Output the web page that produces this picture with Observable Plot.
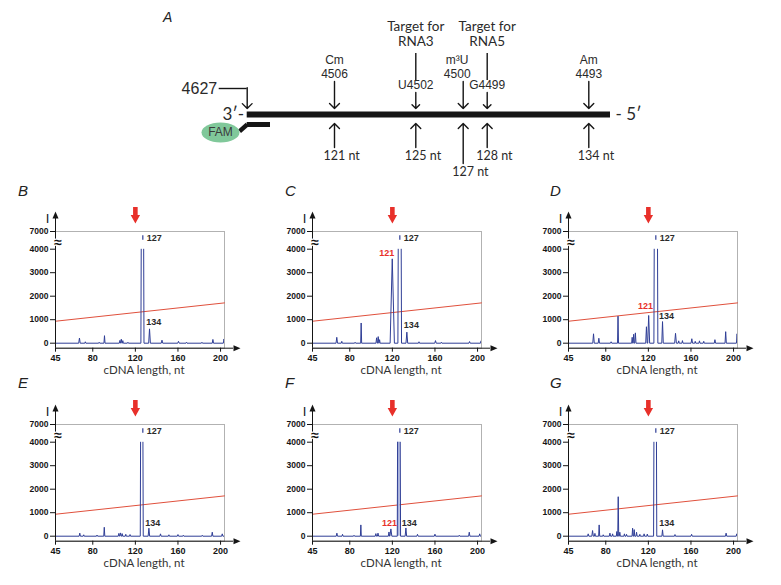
<!DOCTYPE html>
<html><head><meta charset="utf-8">
<script src="https://cdn.jsdelivr.net/npm/d3@7"></script>
<script src="https://cdn.jsdelivr.net/npm/@observablehq/plot@0.6"></script>
<style>
body{margin:0;background:#fff}
#root{position:relative;width:781px;height:585px;overflow:hidden;background:#fff}
.letter{position:absolute;font:italic 15px "Liberation Sans",Arial,sans-serif;color:#222;line-height:15px}
</style></head><body><div id="root"></div>
<script>
// ---------- Panel A data ----------
const strandEnds = {three: 116, five: 135};          // schematic 3' / 5' ends (nt units)
const primerLabel = "4627";
const modSites = [
  {mod: "Cm", pos: "4506", nt: 121},
  {mod: "m³U", pos: "4500", nt: 127},
  {mod: "Am", pos: "4493", nt: 134}
];
const targetSites = [
  {rna: "RNA3", site: "U4502", nt: 125},
  {rna: "RNA5", site: "G4499", nt: 128}
];
const stopLengths = [121, 125, 127, 128, 134];

// ---------- Electropherogram data ----------
const xTicks = [45, 80, 120, 160, 200];
const yTicks = [0, 1000, 2000, 3000, 4000, 7000];
const threshold = [{nt: 45, I: 935}, {nt: 203.7, I: 1715}];
const arrowAt = 120;
const mainTop = {nt: 127, y1: 5500, y2: 6300};

// peaks: [position nt, intensity, half-width nt]
const peaksB = [[67.5,220,0.7],[73,60,0.5],[86,40,0.5],[91,320,0.5],[105.5,120,0.6],[106.8,170,0.6],[108.2,110,0.5],[113,40,0.5],[133.3,610,0.8],[145,130,0.7],[160.5,80,0.7],[168,40,0.5],[182.5,40,0.5],[192.8,160,0.6],[203.2,180,0.6]];
const peaksC = [[67.8,250,0.7],[72.5,80,0.5],[85,40,0.5],[90.7,860,0.45],[105.2,230,0.6],[106.7,280,0.6],[108,150,0.5],[119.9,3590,2],[133.6,470,0.8],[145,60,0.5],[160.5,110,0.7],[166,40,0.5],[192.5,70,0.6],[203.3,100,0.6]];
const peaksD = [[68.5,400,0.7],[73.5,210,0.6],[85,60,0.6],[91.5,1150,0.45],[104.8,250,0.5],[106.2,380,0.5],[107.8,440,0.6],[118.2,700,0.7],[120.3,1180,0.9],[133.3,920,0.7],[145.5,420,0.8],[148.5,100,0.5],[152,110,0.5],[160.8,190,0.7],[164,80,0.5],[168,100,0.5],[172,80,0.5],[182.5,150,0.6],[192.6,490,0.6],[203.3,400,0.6]];
const peaksE = [[67.8,130,0.6],[71.5,60,0.5],[84,50,0.5],[90.8,380,0.5],[104.5,120,0.6],[106,140,0.6],[107.6,110,0.5],[111,80,0.5],[115,70,0.5],[132.7,340,0.7],[143.6,100,0.6],[151.5,60,0.5],[160,70,0.6],[165,40,0.5],[182.8,40,0.5],[192.2,170,0.6],[201.6,100,0.6]];
const peaksF = [[67.9,130,0.6],[73.2,80,0.5],[84,40,0.5],[90.4,480,0.45],[104.5,110,0.6],[106.5,130,0.6],[116.8,180,0.6],[118.6,310,0.9],[132.7,350,0.7],[143.6,80,0.6],[160,85,0.6],[182.8,40,0.5],[192.2,170,0.6],[202,100,0.6]];
const peaksG = [[63.5,100,0.6],[67.6,240,0.7],[69.8,120,0.5],[73.8,480,0.5],[77.6,60,0.5],[83.9,130,0.6],[86.4,100,0.5],[90.4,200,0.5],[91.7,1680,0.45],[93.2,170,0.5],[97.5,100,0.5],[99.5,80,0.5],[105.2,340,0.5],[106.7,280,0.5],[108.9,170,0.5],[112,80,0.5],[116,100,0.5],[119,90,0.5],[133.3,270,0.6],[145,70,0.5],[160.6,80,0.6],[193,130,0.6],[203,100,0.5]];

// main (off-scale) peak: left and right flank positions where it crosses the 4000 break
const mainB = [125.5, 127.8], mainC = [125.5, 128.3], mainD = [125.5, 128.6];
const mainE = [124.9, 127.1], mainF = [124.9, 127.4], mainG = [125.2, 127.6];

// peak labels
const labelsB = [{text: "127", x: 127, y: 5850, kind: "top"}, {text: "134", x: 130.2, y: 900, kind: "side"}];
const labelsC = [{text: "127", x: 127, y: 5850, kind: "top"}, {text: "134", x: 130.8, y: 750, kind: "side"}, {text: "121", x: 114.8, y: 3850, kind: "red"}];
const labelsD = [{text: "127", x: 127, y: 5850, kind: "top"}, {text: "134", x: 129.9, y: 1150, kind: "side"}, {text: "121", x: 117.3, y: 1560, kind: "red"}];
const labelsE = [{text: "127", x: 127, y: 5850, kind: "top"}, {text: "134", x: 129.3, y: 565, kind: "side"}];
const labelsF = [{text: "127", x: 127, y: 5850, kind: "top"}, {text: "134", x: 128.9, y: 565, kind: "side"}, {text: "121", x: 117.3, y: 565, kind: "red"}];
const labelsG = [{text: "127", x: 127, y: 5850, kind: "top"}, {text: "134", x: 130.2, y: 565, kind: "side"}];

const panelLetters = ["B", "C", "D", "E", "F", "G"];

// ---------- styling ----------
const dark = "#2a2a2a";
const ink = "#151515";
const arial = "Liberation Sans, Arial, sans-serif";
const geo = "Lato, 'Open Sans', sans-serif";
const blue = "#2f3e96";
const red = "#e8302a";
const thresholdRed = "#e0503c";

const root = document.getElementById("root");
function place(node, left, top) {
  node.style.position = "absolute";
  node.style.left = left + "px";
  node.style.top = top + "px";
  root.appendChild(node);
}

// custom symbols
const redArrowSym = {draw(c) { c.moveTo(-2.3,-8); c.lineTo(2.3,-8); c.lineTo(2.3,0); c.lineTo(4.7,0); c.lineTo(0,8.5); c.lineTo(-4.7,0); c.lineTo(-2.3,0); c.closePath(); }};
const triUp = {draw(c) { c.moveTo(0,-7); c.lineTo(3,0); c.lineTo(-3,0); c.closePath(); }};
const triRight = {draw(c) { c.moveTo(7,0); c.lineTo(0,3); c.lineTo(0,-3); c.closePath(); }};
const ellipseSym = {draw(c) { const rx = 19, ry = 10, k = 0.5523;
  c.moveTo(rx,0); c.bezierCurveTo(rx,k*ry,k*rx,ry,0,ry); c.bezierCurveTo(-k*rx,ry,-rx,k*ry,-rx,0);
  c.bezierCurveTo(-rx,-k*ry,-k*rx,-ry,0,-ry); c.bezierCurveTo(k*rx,-ry,rx,-k*ry,rx,0); c.closePath(); }};
const stalkSym = {draw(c) { c.moveTo(-6.2,8.6); c.lineTo(-9.0,5.0); c.lineTo(-1.4,-1.8); c.lineTo(1.4,1.8); c.closePath(); }};

// ---------- Panel A ----------
const modNudge = {127: -6};
const diagram = Plot.plot({
  width: 781, height: 180, margin: 0,
  style: {background: "transparent", fontFamily: arial, color: dark},
  x: {type: "linear", domain: [strandEnds.three, ...stopLengths, strandEnds.five],
      range: [246.7, 334, 415.3, 462.7, 486.7, 588.3, 610], axis: null},
  y: {type: "linear", domain: [-114, 66], range: [0, 180], axis: null},
  marks: [
    Plot.ruleY([0], {x1: strandEnds.three, x2: strandEnds.five, stroke: ink, strokeWidth: 6}),
    Plot.text(["3′-"], {x: strandEnds.three, y: 0, text: d => d, textAnchor: "end", dx: -3, fontSize: 17, fontFamily: geo, fill: dark}),
    Plot.text(["- 5′"], {x: strandEnds.five, y: 0, text: d => d, textAnchor: "start", dx: 5, fontSize: 17, fontFamily: geo, fill: dark}),
    // 3' end label with bent arrow
    Plot.ruleY([-26], {x1: strandEnds.three, x2: strandEnds.three, insetLeft: -28, stroke: ink, strokeWidth: 1.4}),
    Plot.arrow([0], {x1: strandEnds.three, x2: strandEnds.three, y1: -26.7, y2: -6, stroke: ink, strokeWidth: 1.4, headAngle: 90, headLength: 7.5}),
    Plot.text([primerLabel], {x: strandEnds.three, y: -26, text: d => d, textAnchor: "end", dx: -30, fontSize: 16, fill: dark}),
    // primer + FAM
    Plot.ruleY([10], {x1: strandEnds.three, x2: strandEnds.three, insetRight: -23.3, stroke: ink, strokeWidth: 5}),
    Plot.dot([0], {x: strandEnds.three, y: 10, symbol: stalkSym, fill: ink, stroke: "none"}),
    Plot.dot([0], {x: strandEnds.three, y: 10, dx: -26.7, dy: 8, symbol: ellipseSym, fill: "#80c89a", stroke: "none"}),
    Plot.text(["FAM"], {x: strandEnds.three, y: 10, dx: -26.7, dy: 8, text: d => d, fontSize: 12, fill: "#3a3a3a"}),
    // modification sites above
    Plot.arrow(modSites, {x1: "nt", x2: "nt", y1: -33, y2: -6, stroke: ink, strokeWidth: 1.4, headAngle: 90, headLength: 7.5}),
    ...modSites.map(s => Plot.text([s], {x: "nt", y: -54, text: "mod", fontSize: 12, fill: dark, dx: modNudge[s.nt] || 0})),
    ...modSites.map(s => Plot.text([s], {x: "nt", y: -40.5, text: "pos", fontSize: 12, fill: dark, dx: modNudge[s.nt] || 0})),
    // targets
    Plot.text(targetSites, {x: "nt", y: -88, text: () => "Target for", fontSize: 13.5, fontFamily: geo, fill: dark}),
    Plot.text(targetSites, {x: "nt", y: -72.5, text: "rna", fontSize: 13.5, fontFamily: geo, fill: dark}),
    Plot.ruleX(targetSites, {x: "nt", y1: -61, y2: -34, stroke: ink, strokeWidth: 1.4}),
    Plot.text(targetSites, {x: "nt", y: -29, text: "site", fontSize: 12, fill: dark}),
    Plot.arrow(targetSites, {x1: "nt", x2: "nt", y1: -22, y2: -6, stroke: ink, strokeWidth: 1.4, headAngle: 90, headLength: 7.5}),
    // RT stop lengths below
    Plot.arrow(stopLengths, {x1: d => d, x2: d => d, y1: d => (d === 127 ? 49 : 33), y2: 9, stroke: ink, strokeWidth: 1.4, headAngle: 90, headLength: 7.5}),
    Plot.text(stopLengths, {x: d => d, y: d => (d === 127 ? 57 : 41), text: d => `${d} nt`, textAnchor: "start", dx: -11, fontSize: 12.5, fontFamily: geo, fill: dark})
  ]
});
place(diagram, 0, 0);

// ---------- Electropherogram panels ----------
function buildTrace(peaks, main) {
  const items = peaks.map(([c, h, w]) => ({c, h, w}));
  items.push({main: true, c: (main[0] + main[1]) / 2});
  items.sort((a, b) => a.c - b.c);
  const pts = [{x: xTicks[0], y: 0}];
  for (const p of items) {
    if (p.main) {
      pts.push({x: main[0] - 0.3, y: 0}, {x: main[0], y: 4000}, {x: main[0], y: NaN},
               {x: main[1], y: 4000}, {x: main[1] + 0.3, y: 0});
    } else {
      pts.push({x: p.c - p.w, y: 0}, {x: p.c, y: p.h}, {x: p.c + p.w, y: 0});
    }
  }
  pts.push({x: threshold[1].nt, y: 0});
  return pts;
}

const xMax = threshold[1].nt;
function panel(peaks, main, labels, fillMain) {
  const trace = buildTrace(peaks, main);
  const marks = [
    Plot.frame({stroke: "#b2b2b2", strokeWidth: 1}),
    Plot.line(threshold, {x: "nt", y: "I", stroke: thresholdRed, strokeWidth: 1})
  ];
  if (fillMain) marks.push(Plot.areaY([{x: main[0], y: 4000}, {x: main[1], y: 4000}], {x: "x", y: "y", fill: "#a9b3dc"}));
  marks.push(
    Plot.line(trace, {x: "x", y: "y", stroke: blue, strokeWidth: 1, clip: true}),
    Plot.ruleX([mainTop], {x: "nt", y1: "y1", y2: "y2", stroke: blue, strokeWidth: 1.2}),
    // axes
    Plot.ruleX([xTicks[0]], {insetTop: -13, stroke: ink, strokeWidth: 1}),
    Plot.dot([{x: xTicks[0], y: 7000}], {x: "x", y: "y", dy: -13, symbol: triUp, fill: ink, stroke: "none"}),
    Plot.ruleY([0], {x1: xTicks[0], x2: xMax, dy: 5, insetRight: -9, stroke: ink, strokeWidth: 1}),
    Plot.dot([{x: xMax, y: 0}], {x: "x", y: "y", dx: 9, dy: 5, symbol: triRight, fill: ink, stroke: "none"}),
    Plot.axisY({ticks: yTicks, tickFormat: d => String(d), tickSize: 5, tickPadding: 2, fontSize: 8.5, fontWeight: "bold", label: null}),
    Plot.axisX({ticks: xTicks, tickFormat: d => String(d), tickSize: 4, tickPadding: 2, fontSize: 9, fontWeight: "bold", label: null}),
    Plot.text(["≈"], {x: xTicks[0], y: 5200, text: d => d, dx: 2.5, fontSize: 14, fontWeight: "bold", fill: ink, stroke: "white", strokeWidth: 2.5}),
    Plot.text(["I"], {x: xTicks[0], y: 7000, text: d => d, dx: -8, dy: -13, fontSize: 13, fill: ink}),
    Plot.text(["cDNA length, nt"], {frameAnchor: "bottom", text: d => d, dx: 4, dy: 25.5, fontSize: 11.5, fontFamily: geo, fill: "#333"}),
    Plot.dot([{x: arrowAt, y: 7000}], {x: "x", y: "y", dy: -16.5, symbol: redArrowSym, fill: red, stroke: "none"}),
    Plot.text(labels.filter(d => d.kind === "top"), {x: "x", y: "y", text: "text", textAnchor: "start", dx: 4, fontSize: 9, fontWeight: "bold", fill: dark}),
    Plot.text(labels.filter(d => d.kind === "side"), {x: "x", y: "y", text: "text", textAnchor: "start", fontSize: 9, fontWeight: "bold", fill: dark}),
    Plot.text(labels.filter(d => d.kind === "red"), {x: "x", y: "y", text: "text", textAnchor: "middle", fontSize: 9, fontWeight: "bold", fill: red})
  );
  return Plot.plot({
    width: 256, height: 200,
    marginLeft: 55, marginRight: 32, marginTop: 51, marginBottom: 32.3,
    style: {background: "transparent", fontFamily: arial, color: ink, overflow: "visible"},
    x: {type: "linear", domain: [xTicks[0], xMax]},
    y: {type: "linear", domain: [0, 4000, 7000], range: [162.7, 68.7, 51]},
    marks
  });
}

const panels = [
  [peaksB, mainB, labelsB, false],
  [peaksC, mainC, labelsC, false],
  [peaksD, mainD, labelsD, false],
  [peaksE, mainE, labelsE, false],
  [peaksF, mainF, labelsF, true],
  [peaksG, mainG, labelsG, false]
];
const colLeft = [0, 256.7, 513.3];
const rowTop = [180, 372.6];
panels.forEach((p, i) => {
  const svg = panel(...p);
  place(svg, colLeft[i % 3], rowTop[Math.floor(i / 3)]);
});

// panel letters
function letter(t, left, top, size) {
  const d = document.createElement("div");
  d.className = "letter";
  d.textContent = t;
  if (size) d.style.fontSize = size + "px";
  d.style.left = left + "px";
  d.style.top = top + "px";
  root.appendChild(d);
}
letter("A", 163, 9.5, 14);
const letterX = [18, 285, 550];
panelLetters.forEach((t, i) => letter(t, letterX[i % 3], i < 3 ? 182.6 : 375.2));
</script></body></html>
